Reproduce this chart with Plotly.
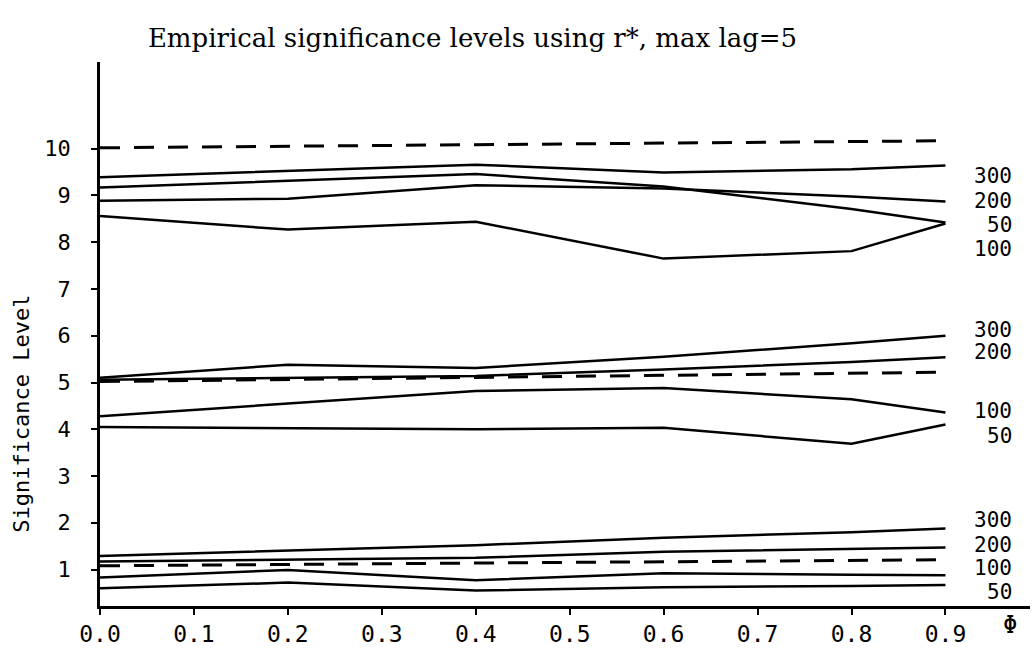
import plotly.graph_objects as go

# ---- data ----
phi = [0.0, 0.2, 0.4, 0.6, 0.8, 0.9]
phi_ref = [0.0, 0.9]

# nominal 10% level
sig10_n300 = [9.39, 9.53, 9.66, 9.49, 9.56, 9.64]
sig10_n200 = [8.89, 8.93, 9.22, 9.15, 8.98, 8.87]
sig10_n50 = [9.17, 9.32, 9.46, 9.19, 8.71, 8.42]
sig10_n100 = [8.56, 8.27, 8.44, 7.65, 7.81, 8.40]
ref10 = [10.02, 10.17]

# nominal 5% level
sig5_n300 = [5.10, 5.38, 5.31, 5.55, 5.84, 6.00]
sig5_n200 = [5.06, 5.10, 5.14, 5.28, 5.44, 5.54]
sig5_n100 = [4.28, 4.55, 4.82, 4.88, 4.64, 4.36]
sig5_n50 = [4.05, 4.03, 4.00, 4.03, 3.69, 4.10]
ref5 = [5.02, 5.22]

# nominal 1% level
sig1_n300 = [1.29, 1.41, 1.52, 1.68, 1.80, 1.88]
sig1_n200 = [1.17, 1.21, 1.25, 1.38, 1.44, 1.47]
sig1_n100 = [0.83, 0.99, 0.77, 0.92, 0.89, 0.88]
sig1_n50 = [0.60, 0.72, 0.55, 0.62, 0.65, 0.67]
ref1 = [1.08, 1.21]

x_ticks = [0.0, 0.1, 0.2, 0.3, 0.4, 0.5, 0.6, 0.7, 0.8, 0.9]
y_ticks = [1, 2, 3, 4, 5, 6, 7, 8, 9, 10]

# (series, label, label vertical shift in px)
series = [
    (sig10_n300, "300", -10), (sig10_n200, "200", 1),
    (sig10_n50, "50", -2), (sig10_n100, "100", -25),
    (sig5_n300, "300", 6), (sig5_n200, "200", 5),
    (sig5_n100, "100", 1), (sig5_n50, "50", -11),
    (sig1_n300, "300", 8), (sig1_n200, "200", 3),
    (sig1_n100, "100", 7), (sig1_n50, "50", -7),
]
refs = [ref10, ref5, ref1]

MONO = "DejaVu Sans Mono"
fig = go.Figure()

for vals, lab, ysh in series:
    fig.add_trace(go.Scatter(x=phi, y=vals, mode="lines", name="n=" + lab,
                             line=dict(color="black", width=2.5)))
    fig.add_annotation(x=phi[-1], y=vals[-1], xref="x", yref="y", text=lab,
                       showarrow=False, xanchor="right", xshift=68, yshift=ysh,
                       borderpad=0,
                       font=dict(family=MONO, size=21, color="black"))

for r in refs:
    fig.add_trace(go.Scatter(x=phi_ref, y=r, mode="lines", name="nominal",
                             line=dict(color="black", width=3, dash="20px,14px")))

fig.add_annotation(xref="paper", yref="paper", x=0.978, y=0, yshift=-19,
                   text="Φ", showarrow=False, xanchor="center", yanchor="middle",
                   font=dict(family=MONO, size=24, color="black"))
fig.add_annotation(xref="paper", yref="paper", x=-0.084, y=0.353,
                   text="Significance Level", showarrow=False, textangle=-90,
                   xanchor="center", yanchor="middle",
                   font=dict(family=MONO, size=22, color="black"))

fig.update_layout(
    width=1034, height=651,
    margin=dict(l=100, r=4, t=62, b=39),
    paper_bgcolor="white", plot_bgcolor="white",
    showlegend=False,
    title=dict(text="Empirical significance levels using r*, max lag=5",
               x=0.457, xanchor="center", y=0.942, yanchor="middle",
               font=dict(family="DejaVu Serif", size=26, color="black")),
)
fig.update_xaxes(range=[0, 0.99], tickvals=x_ticks, tickformat=".1f",
                 showgrid=False, zeroline=False, showline=True,
                 linecolor="black", linewidth=2.5, ticks="outside",
                 ticklen=6, tickwidth=2, tickcolor="black",
                 tickfont=dict(family=MONO, size=23, color="black"))
fig.update_yaxes(range=[0.22, 11.855], tickvals=y_ticks,
                 showgrid=False, zeroline=False, showline=True,
                 linecolor="black", linewidth=2.5, ticks="outside",
                 ticklen=6, tickwidth=2, tickcolor="black",
                 ticklabelstandoff=16,
                 tickfont=dict(family=MONO, size=22, color="black"))

fig.write_html("out.html")
